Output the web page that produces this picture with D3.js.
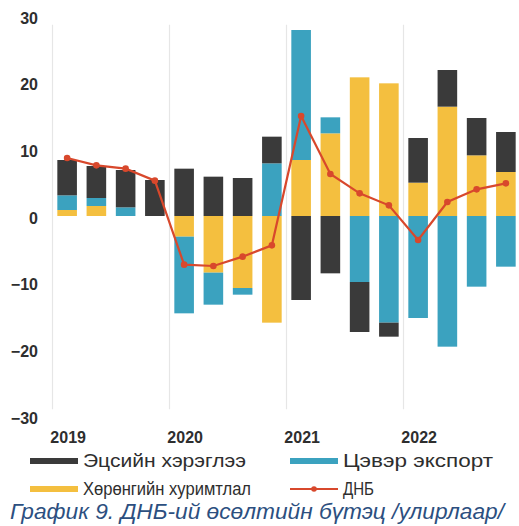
<!DOCTYPE html>
<html>
<head>
<meta charset="utf-8">
<script src="https://cdn.jsdelivr.net/npm/d3@7"></script>
<style>
  html, body { margin: 0; padding: 0; background: #ffffff; }
  svg { display: block; }
</style>
</head>
<body>
<svg id="chart" width="519" height="526"></svg>
<script>
// ---- data ----
const quarters = ["2019Q1","2019Q2","2019Q3","2019Q4","2020Q1","2020Q2","2020Q3","2020Q4",
                  "2021Q1","2021Q2","2021Q3","2021Q4","2022Q1","2022Q2","2022Q3","2022Q4"];
const capitalFormation = [0.9, 1.5, 0.0, 0.0, -3.1, -8.5, -10.8, -16.0, 8.4, 12.4, 20.8, 19.9, 5.0, 16.4, 9.1, 6.6];
const netExport        = [2.2, 1.2, 1.3, 0.0, -11.5, -4.8, -1.0, 7.9, 19.5, 2.4, -9.9, -16.0, -15.3, -19.6, -10.6, -7.6];
const consumption      = [5.3, 4.8, 5.6, 5.4, 7.1, 5.9, 5.7, 4.0, -12.6, -8.6, -7.5, -2.1, 6.7, 5.5, 5.6, 6.0];
const gdp              = [8.7, 7.6, 7.1, 5.3, -7.3, -7.5, -6.1, -4.4, 15.0, 6.3, 3.4, 1.6, -3.6, 2.1, 4.0, 4.9];
const yearLabels = ["2019","2020","2021","2022"];
const yTicks = [30, 20, 10, 0, -10, -20, -30];
const seriesNames = {
  capital: "Хөрөнгийн хуримтлал",
  export: "Цэвэр экспорт",
  consumption: "Эцсийн хэрэглээ",
  gdp: "ДНБ"
};
const caption = "График 9. ДНБ-ий өсөлтийн бүтэц /улирлаар/";

// ---- styles ----
const colors = { capital: "#f4bf3f", export: "#3ba2bf", consumption: "#3a3a3a", gdp: "#d8482c" };
const font = "'Liberation Sans', Arial, sans-serif";

const svg = d3.select("#chart");

const table = quarters.map((q, i) => ({
  q, capital: capitalFormation[i], export: netExport[i], consumption: consumption[i], gdp: gdp[i]
}));

const x = d3.scaleBand().domain(quarters).range([52.5, 52.5 + 16 * 29.25]).paddingInner(0.33).paddingOuter(0.165);
const y = d3.scaleLinear().domain([-30, 30]).range([416, 16]);

// year separators
const yearStarts = [0, 4, 8, 12];
const step = x.step();
svg.append("g").selectAll("line").data(yearStarts).join("line")
  .attr("x1", i => x.range()[0] + i * step)
  .attr("x2", i => x.range()[0] + i * step)
  .attr("y1", y(28.7)).attr("y2", y(-29))
  .attr("stroke", "#e6e6e6").attr("stroke-width", 1.2);

// stacked bars
const keys = ["capital", "export", "consumption"];
const stack = d3.stack().keys(keys).offset(d3.stackOffsetDiverging);
const layers = stack(table);
svg.append("g").selectAll("g").data(layers).join("g")
  .attr("fill", d => colors[d.key])
  .selectAll("rect").data(d => d).join("rect")
  .attr("x", d => x(d.data.q))
  .attr("width", x.bandwidth())
  .attr("y", d => y(Math.max(d[0], d[1])))
  .attr("height", d => Math.abs(y(d[0]) - y(d[1])));

// GDP line
const cx = d => x(d.q) + x.bandwidth() / 2;
svg.append("path").datum(table)
  .attr("fill", "none").attr("stroke", colors.gdp).attr("stroke-width", 2.2)
  .attr("d", d3.line().x(cx).y(d => y(d.gdp)));
svg.append("g").selectAll("circle").data(table).join("circle")
  .attr("cx", cx).attr("cy", d => y(d.gdp)).attr("r", 3.3).attr("fill", colors.gdp);

// y axis labels
const yAxis = d3.axisLeft(y).tickValues(yTicks).tickSize(0).tickPadding(0).tickFormat(d3.format("d"));
const ga = svg.append("g").attr("transform", "translate(38,2)").call(yAxis);
ga.select(".domain").remove();
ga.selectAll("text").attr("font-family", font).attr("font-size", 16).attr("font-weight", "bold").attr("fill", "#2e2e2e");

// x axis year labels
const xAxis = d3.axisBottom(x).tickValues(yearStarts.map(i => quarters[i])).tickSize(0)
  .tickFormat((d, i) => yearLabels[i]);
const gx = svg.append("g").attr("transform", "translate(1,429)").call(xAxis);
gx.select(".domain").remove();
gx.selectAll("text").attr("font-family", font).attr("font-size", 16).attr("font-weight", "bold").attr("fill", "#2e2e2e");

// legend
const legend = [
  { key: "consumption", x: 30, y: 461, w: 163 },
  { key: "export", x: 290, y: 461, w: 150 },
  { key: "capital", x: 30, y: 489, w: 168 },
  { key: "gdp", x: 290, y: 489, w: 31 }
];
const lg = svg.append("g").selectAll("g").data(legend).join("g")
  .attr("transform", d => `translate(${d.x},${d.y})`);
lg.filter(d => d.key !== "gdp").append("rect")
  .attr("x", 0).attr("y", -3).attr("width", 48).attr("height", 6)
  .attr("fill", d => colors[d.key]);
lg.filter(d => d.key === "gdp").append("line")
  .attr("x1", 0).attr("x2", 48).attr("y1", 0).attr("y2", 0)
  .attr("stroke", colors.gdp).attr("stroke-width", 2);
lg.filter(d => d.key === "gdp").append("circle")
  .attr("cx", 24).attr("cy", 0).attr("r", 2.8).attr("fill", colors.gdp);
lg.append("text")
  .attr("x", 53).attr("y", 0).attr("dy", "0.36em")
  .attr("font-family", font).attr("font-size", 17.5).attr("fill", "#2e2e2e")
  .attr("textLength", d => d.w).attr("lengthAdjust", "spacingAndGlyphs")
  .text(d => seriesNames[d.key]);

// caption
svg.append("text")
  .attr("x", 10).attr("y", 519)
  .attr("font-family", font).attr("font-size", 22.5).attr("font-style", "italic")
  .attr("fill", "#2c4f80")
  .attr("textLength", 494).attr("lengthAdjust", "spacingAndGlyphs")
  .text(caption);
</script>
</body>
</html>
